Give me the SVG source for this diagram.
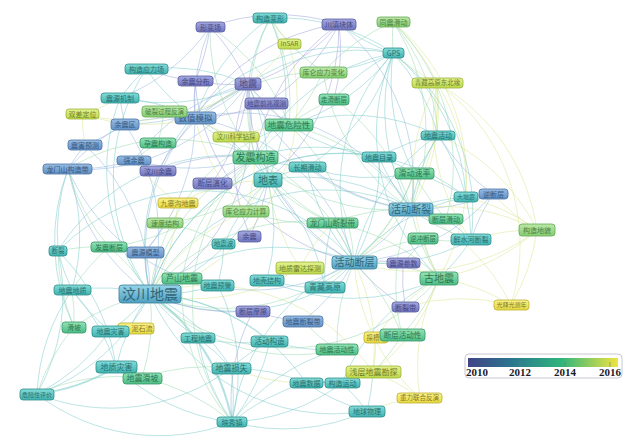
<svg xmlns="http://www.w3.org/2000/svg" width="634" height="445" viewBox="0 0 634 445">
<defs>
<linearGradient id="gP" x1="0" y1="0" x2="0" y2="1"><stop offset="0" stop-color="#a4a8e0"/><stop offset="1" stop-color="#7074bc"/></linearGradient>
<linearGradient id="gB" x1="0" y1="0" x2="0" y2="1"><stop offset="0" stop-color="#98bce4"/><stop offset="1" stop-color="#6290c4"/></linearGradient>
<linearGradient id="gS" x1="0" y1="0" x2="0" y2="1"><stop offset="0" stop-color="#94d4e8"/><stop offset="1" stop-color="#50a0c0"/></linearGradient>
<linearGradient id="gT" x1="0" y1="0" x2="0" y2="1"><stop offset="0" stop-color="#84dcd8"/><stop offset="1" stop-color="#40b2b0"/></linearGradient>
<linearGradient id="gG" x1="0" y1="0" x2="0" y2="1"><stop offset="0" stop-color="#94e4b4"/><stop offset="1" stop-color="#4cbc84"/></linearGradient>
<linearGradient id="gL" x1="0" y1="0" x2="0" y2="1"><stop offset="0" stop-color="#bce8a8"/><stop offset="1" stop-color="#84cc72"/></linearGradient>
<linearGradient id="gY" x1="0" y1="0" x2="0" y2="1"><stop offset="0" stop-color="#e4f290"/><stop offset="1" stop-color="#bcd84a"/></linearGradient>
<linearGradient id="gW" x1="0" y1="0" x2="0" y2="1"><stop offset="0" stop-color="#faf28a"/><stop offset="1" stop-color="#e6d840"/></linearGradient>
<linearGradient id="gLeg" x1="0" y1="0" x2="1" y2="0"><stop offset="0" stop-color="#414487"/><stop offset="0.3" stop-color="#2a788e"/><stop offset="0.62" stop-color="#2fb47c"/><stop offset="1" stop-color="#f0e440"/></linearGradient>
</defs>
<style>
#edges path{fill:none;stroke-width:0.9;opacity:0.55}
.ep{stroke:#9a9ed8}.eb{stroke:#8fb4dc}.et{stroke:#76c8c8}.eg{stroke:#94d8ac}.ey{stroke:#d8e48a}
.nd rect{rx:3px;ry:3px;stroke-width:0.8}
.nd text{font-family:"Noto Sans CJK SC","Noto Sans",sans-serif;font-size:7px;text-anchor:middle;opacity:0.8}
.kP rect{fill:url(#gP);stroke:#5b5f9f}.kP text{fill:#34376e}
.kB rect{fill:url(#gB);stroke:#4d74a4}.kB text{fill:#26466a}
.kS rect{fill:url(#gS);stroke:#3d7f9a}.kS text{fill:#1f4f62}
.kT rect{fill:url(#gT);stroke:#2f8e8c}.kT text{fill:#1c5856}
.kG rect{fill:url(#gG);stroke:#379668}.kG text{fill:#1d5e3e}
.kL rect{fill:url(#gL);stroke:#62a853}.kL text{fill:#3a6a2c}
.kY rect{fill:url(#gY);stroke:#9ab23a}.kY text{fill:#56661a}
.kW rect{fill:url(#gW);stroke:#bcae30}.kW text{fill:#6a6018}
.leg{font-family:"Liberation Serif",serif;font-weight:bold;font-size:11px;fill:#1a1a2a;text-anchor:middle}
</style>
<rect width="634" height="445" fill="#ffffff"/>
<g id="edges">
<path class="et" d="M150 294A200 200 0 0 1 354 262"/>
<path class="et" d="M150 294A200 200 0 0 1 411 209"/>
<path class="eg" d="M150 294A200 200 0 0 0 439 278"/>
<path class="eg" d="M150 294A200 200 0 0 1 255 157"/>
<path class="et" d="M150 294A200 200 0 0 0 268 180"/>
<path class="eb" d="M150 294A200 200 0 0 1 195 118"/>
<path class="ep" d="M150 294A200 200 0 0 0 248 84"/>
<path class="eg" d="M150 294A200 200 0 0 1 289 125"/>
<path class="et" d="M150 294A200 200 0 0 1 120 98"/>
<path class="eb" d="M150 294A200 200 0 0 0 125 124"/>
<path class="eb" d="M150 294A200 200 0 0 1 68 169"/>
<path class="eg" d="M150 294A200 200 0 0 0 109 247"/>
<path class="eb" d="M150 294A200 200 0 0 1 145 252"/>
<path class="et" d="M150 294A200 200 0 0 0 72 290"/>
<path class="eg" d="M150 294A200 200 0 0 1 182 278"/>
<path class="et" d="M150 294A200 200 0 0 0 218 285"/>
<path class="et" d="M150 294A200 200 0 0 1 110 331"/>
<path class="et" d="M150 294A200 200 0 0 0 116 367"/>
<path class="eg" d="M150 294A200 200 0 0 1 142 378"/>
<path class="eg" d="M150 294A200 200 0 0 0 74 327"/>
<path class="et" d="M150 294A200 200 0 0 1 37 394"/>
<path class="et" d="M150 294A200 200 0 0 0 198 338"/>
<path class="et" d="M150 294A200 200 0 0 1 231 368"/>
<path class="et" style="stroke-width:2" d="M150 294A200 200 0 0 1 232 422"/>
<path class="eg" d="M150 294A200 200 0 0 0 337 350"/>
<path class="et" d="M150 294A200 200 0 0 1 306 383"/>
<path class="et" d="M150 294A200 200 0 0 0 367 411"/>
<path class="eg" d="M150 294A200 200 0 0 1 332 223"/>
<path class="et" d="M150 294A200 200 0 0 0 325 288"/>
<path class="et" d="M150 294A200 200 0 0 1 379 157"/>
<path class="ey" d="M150 294A200 200 0 0 0 300 268"/>
<path class="ey" d="M150 294A200 200 0 0 1 246 211"/>
<path class="ey" d="M150 294A200 200 0 0 0 178 203"/>
<path class="ey" d="M150 294A200 200 0 0 1 373 372"/>
<path class="et" d="M150 294A200 200 0 0 1 393 53"/>
<path class="ey" d="M150 294A200 200 0 0 0 289 44"/>
<path class="et" d="M150 294A200 200 0 0 1 146 69"/>
<path class="eb" d="M150 294A200 200 0 0 0 85 145"/>
<path class="et" d="M150 294A200 200 0 0 1 270 341"/>
<path class="ep" d="M150 294A200 200 0 0 0 253 311"/>
<path class="et" d="M150 294A200 200 0 0 1 466 197"/>
<path class="eg" d="M150 294A200 200 0 0 0 414 173"/>
<path class="eb" d="M354 262A200 200 0 0 0 411 209"/>
<path class="eg" d="M354 262A200 200 0 0 1 439 278"/>
<path class="eg" d="M354 262A200 200 0 0 0 255 157"/>
<path class="et" d="M354 262A200 200 0 0 1 268 180"/>
<path class="eg" d="M354 262A200 200 0 0 0 289 125"/>
<path class="et" d="M354 262A200 200 0 0 1 393 53"/>
<path class="ey" d="M354 262A200 200 0 0 0 437 83"/>
<path class="et" d="M354 262A200 200 0 0 1 438 135"/>
<path class="eg" d="M354 262A200 200 0 0 0 414 173"/>
<path class="et" d="M354 262A200 200 0 0 1 466 197"/>
<path class="eb" d="M354 262A200 200 0 0 0 493 194"/>
<path class="eg" d="M354 262A200 200 0 0 1 423 239"/>
<path class="et" d="M354 262A200 200 0 0 0 471 240"/>
<path class="ep" d="M354 262A200 200 0 0 1 403 263"/>
<path class="ep" d="M354 262A200 200 0 0 0 405 307"/>
<path class="eg" d="M354 262A200 200 0 0 1 402 335"/>
<path class="eg" d="M354 262A200 200 0 0 0 337 350"/>
<path class="ey" d="M354 262A200 200 0 0 1 373 372"/>
<path class="ey" d="M354 262A200 200 0 0 0 420 398"/>
<path class="et" d="M354 262A200 200 0 0 1 325 288"/>
<path class="eg" d="M354 262A200 200 0 0 0 332 223"/>
<path class="et" d="M354 262A200 200 0 0 1 307 167"/>
<path class="et" d="M354 262A200 200 0 0 0 379 157"/>
<path class="ep" d="M354 262A200 200 0 0 1 195 81"/>
<path class="eb" d="M354 262A200 200 0 0 0 195 118"/>
<path class="ep" d="M354 262A200 200 0 0 1 248 84"/>
<path class="et" d="M354 262A200 200 0 0 0 58 251"/>
<path class="eb" d="M354 262A200 200 0 0 1 68 169"/>
<path class="et" d="M354 262A200 200 0 0 0 232 422"/>
<path class="eb" d="M354 262A200 200 0 0 1 303 321"/>
<path class="ey" d="M354 262A200 200 0 0 0 537 230"/>
<path class="eg" d="M411 209A200 200 0 0 0 439 278"/>
<path class="et" d="M411 209A200 200 0 0 1 393 53"/>
<path class="ey" d="M411 209A200 200 0 0 0 437 83"/>
<path class="et" d="M411 209A200 200 0 0 1 438 135"/>
<path class="eg" d="M411 209A200 200 0 0 0 414 173"/>
<path class="et" d="M411 209A200 200 0 0 1 466 197"/>
<path class="eb" d="M411 209A200 200 0 0 0 493 194"/>
<path class="eg" d="M411 209A200 200 0 0 1 446 219"/>
<path class="et" d="M411 209A200 200 0 0 0 471 240"/>
<path class="ey" d="M411 209A200 200 0 0 1 537 230"/>
<path class="eg" d="M411 209A200 200 0 0 0 334 99"/>
<path class="eg" d="M411 209A200 200 0 0 1 323 72"/>
<path class="eg" d="M411 209A200 200 0 0 0 393 22"/>
<path class="et" d="M411 209A200 200 0 0 1 379 157"/>
<path class="et" d="M411 209A200 200 0 0 0 268 180"/>
<path class="eg" d="M411 209A200 200 0 0 1 255 157"/>
<path class="eg" d="M411 209A200 200 0 0 0 289 125"/>
<path class="ep" d="M411 209A200 200 0 0 1 248 84"/>
<path class="eb" d="M411 209A200 200 0 0 0 195 118"/>
<path class="et" d="M411 209A200 200 0 0 1 307 167"/>
<path class="eg" d="M411 209A200 200 0 0 0 332 223"/>
<path class="ey" d="M411 209A200 200 0 0 1 511 305"/>
<path class="eg" d="M411 209A200 200 0 0 0 402 335"/>
<path class="ey" d="M439 278A200 200 0 0 0 537 230"/>
<path class="ey" d="M439 278A200 200 0 0 1 511 305"/>
<path class="et" d="M439 278A200 200 0 0 0 471 240"/>
<path class="eg" d="M439 278A200 200 0 0 1 423 239"/>
<path class="ey" d="M439 278A200 200 0 0 1 437 83"/>
<path class="ey" d="M439 278A200 200 0 0 0 393 22"/>
<path class="et" d="M439 278A200 200 0 0 1 393 53"/>
<path class="ey" d="M439 278A200 200 0 0 0 376 337"/>
<path class="eg" d="M439 278A200 200 0 0 1 402 335"/>
<path class="ey" d="M439 278A200 200 0 0 0 420 398"/>
<path class="ey" d="M439 278A200 200 0 0 1 373 372"/>
<path class="et" d="M439 278A200 200 0 0 0 342 383"/>
<path class="et" d="M439 278A200 200 0 0 1 267 280"/>
<path class="eg" d="M439 278A200 200 0 0 0 332 223"/>
<path class="ep" d="M248 84A200 200 0 0 0 210 27"/>
<path class="et" d="M248 84A200 200 0 0 1 270 18"/>
<path class="ep" d="M248 84A200 200 0 0 0 339 24"/>
<path class="ep" d="M248 84A200 200 0 0 1 195 81"/>
<path class="ep" d="M248 84A200 200 0 0 0 266 103"/>
<path class="eb" d="M248 84A200 200 0 0 1 195 118"/>
<path class="et" d="M248 84A200 200 0 0 0 146 69"/>
<path class="et" d="M248 84A200 200 0 0 1 120 98"/>
<path class="ey" d="M248 84A200 200 0 0 0 289 44"/>
<path class="et" d="M248 84A200 200 0 0 1 393 53"/>
<path class="eg" d="M248 84A200 200 0 0 0 255 157"/>
<path class="et" d="M248 84A200 200 0 0 1 268 180"/>
<path class="eg" d="M248 84A200 200 0 0 0 289 125"/>
<path class="eb" d="M248 84A200 200 0 0 1 125 124"/>
<path class="ep" d="M248 84A200 200 0 0 0 158 171"/>
<path class="ep" d="M248 84A200 200 0 0 1 212 183"/>
<path class="ep" d="M248 84A200 200 0 0 0 250 236"/>
<path class="eb" d="M248 84A200 200 0 0 1 68 169"/>
<path class="eb" d="M248 84A200 200 0 0 0 134 160"/>
<path class="ey" d="M248 84A200 200 0 0 1 82 114"/>
<path class="et" d="M195 118A200 200 0 0 0 120 98"/>
<path class="ey" d="M195 118A200 200 0 0 1 82 114"/>
<path class="eb" d="M195 118A200 200 0 0 0 125 124"/>
<path class="et" d="M195 118A200 200 0 0 1 146 69"/>
<path class="eg" d="M195 118A200 200 0 0 0 164 111"/>
<path class="ep" d="M195 118A200 200 0 0 1 195 81"/>
<path class="eg" d="M195 118A200 200 0 0 0 255 157"/>
<path class="et" d="M195 118A200 200 0 0 1 268 180"/>
<path class="ey" d="M195 118A200 200 0 0 0 246 211"/>
<path class="eb" d="M195 118A200 200 0 0 1 145 252"/>
<path class="ey" d="M195 118A200 200 0 0 0 236 137"/>
<path class="eg" d="M195 118A200 200 0 0 1 323 72"/>
<path class="ep" d="M195 118A200 200 0 0 0 266 103"/>
<path class="ep" d="M210 27A200 200 0 0 1 195 81"/>
<path class="eb" d="M210 27A200 200 0 0 0 195 118"/>
<path class="eb" d="M210 27A200 200 0 0 1 120 98"/>
<path class="eg" d="M210 27A200 200 0 0 0 255 157"/>
<path class="eg" d="M210 27A200 200 0 0 1 289 125"/>
<path class="ep" d="M210 27A200 200 0 0 1 339 24"/>
<path class="ey" d="M270 18A200 200 0 0 0 289 44"/>
<path class="et" d="M270 18A200 200 0 0 1 393 53"/>
<path class="eg" d="M270 18A200 200 0 0 0 255 157"/>
<path class="eg" d="M270 18A200 200 0 0 1 289 125"/>
<path class="eg" d="M270 18A200 200 0 0 0 323 72"/>
<path class="et" d="M270 18A200 200 0 0 1 268 180"/>
<path class="et" d="M270 18A200 200 0 0 0 195 118"/>
<path class="et" d="M339 24A200 200 0 0 0 393 53"/>
<path class="ep" d="M339 24A200 200 0 0 1 266 103"/>
<path class="ep" d="M339 24A200 200 0 0 0 255 157"/>
<path class="ep" d="M339 24A200 200 0 0 1 268 180"/>
<path class="ep" d="M339 24A200 200 0 0 0 195 118"/>
<path class="ep" d="M339 24A200 200 0 0 1 334 99"/>
<path class="eb" d="M339 24A200 200 0 0 1 411 209"/>
<path class="eg" d="M393 22A200 200 0 0 0 393 53"/>
<path class="ey" d="M393 22A200 200 0 0 1 437 83"/>
<path class="eg" d="M393 22A200 200 0 0 0 323 72"/>
<path class="eg" d="M393 22A200 200 0 0 1 438 135"/>
<path class="eg" d="M393 22A200 200 0 0 1 446 219"/>
<path class="ey" d="M393 53A200 200 0 0 0 437 83"/>
<path class="et" d="M393 53A200 200 0 0 1 323 72"/>
<path class="et" d="M393 53A200 200 0 0 0 334 99"/>
<path class="et" d="M393 53A200 200 0 0 1 438 135"/>
<path class="et" d="M393 53A200 200 0 0 0 414 173"/>
<path class="et" d="M393 53A200 200 0 0 1 307 167"/>
<path class="et" d="M393 53A200 200 0 0 0 255 157"/>
<path class="et" d="M393 53A200 200 0 0 1 289 125"/>
<path class="et" d="M393 53A200 200 0 0 1 466 197"/>
<path class="et" d="M393 53A200 200 0 0 1 471 240"/>
<path class="ey" d="M437 83A200 200 0 0 1 537 230"/>
<path class="ey" d="M437 83A200 200 0 0 0 438 135"/>
<path class="ey" d="M437 83A200 200 0 0 1 511 305"/>
<path class="ey" d="M437 83A200 200 0 0 0 471 240"/>
<path class="ey" d="M437 83A200 200 0 0 1 466 197"/>
<path class="et" d="M255 157A200 200 0 0 0 268 180"/>
<path class="eg" d="M255 157A200 200 0 0 1 289 125"/>
<path class="et" d="M255 157A200 200 0 0 0 307 167"/>
<path class="ey" d="M255 157A200 200 0 0 1 246 211"/>
<path class="eg" d="M255 157A200 200 0 0 0 332 223"/>
<path class="eg" d="M255 157A200 200 0 0 1 109 247"/>
<path class="eg" d="M255 157A200 200 0 0 0 68 169"/>
<path class="eb" d="M255 157A200 200 0 0 1 134 160"/>
<path class="ep" d="M255 157A200 200 0 0 0 158 171"/>
<path class="ep" d="M255 157A200 200 0 0 1 212 183"/>
<path class="et" d="M255 157A200 200 0 0 0 58 251"/>
<path class="et" d="M255 157A200 200 0 0 1 379 157"/>
<path class="eg" d="M255 157A200 200 0 0 0 182 278"/>
<path class="et" d="M268 180A200 200 0 0 1 307 167"/>
<path class="ey" d="M268 180A200 200 0 0 0 246 211"/>
<path class="ep" d="M268 180A200 200 0 0 1 250 236"/>
<path class="et" d="M268 180A200 200 0 0 0 224 244"/>
<path class="et" d="M268 180A200 200 0 0 1 267 280"/>
<path class="ey" d="M268 180A200 200 0 0 0 300 268"/>
<path class="et" d="M268 180A200 200 0 0 1 325 288"/>
<path class="eg" d="M268 180A200 200 0 0 0 332 223"/>
<path class="eg" d="M268 180A200 200 0 0 1 165 223"/>
<path class="ey" d="M268 180A200 200 0 0 0 178 203"/>
<path class="eg" d="M289 125A200 200 0 0 0 323 72"/>
<path class="eg" d="M289 125A200 200 0 0 1 334 99"/>
<path class="ey" d="M289 125A200 200 0 0 0 236 137"/>
<path class="ep" d="M289 125A200 200 0 0 1 266 103"/>
<path class="et" d="M289 125A200 200 0 0 0 379 157"/>
<path class="et" d="M289 125A200 200 0 0 1 438 135"/>
<path class="et" d="M68 169A200 200 0 0 0 58 251"/>
<path class="et" d="M68 169A200 200 0 0 1 72 290"/>
<path class="eg" d="M68 169A200 200 0 0 0 109 247"/>
<path class="eb" d="M68 169A200 200 0 0 1 85 145"/>
<path class="eb" d="M68 169A200 200 0 0 0 134 160"/>
<path class="eb" d="M68 169A200 200 0 0 1 125 124"/>
<path class="et" d="M68 169A200 200 0 0 0 74 327"/>
<path class="eg" d="M58 251A200 200 0 0 1 109 247"/>
<path class="et" d="M58 251A200 200 0 0 0 72 290"/>
<path class="et" d="M58 251A200 200 0 0 1 37 394"/>
<path class="eg" d="M58 251A200 200 0 0 0 74 327"/>
<path class="et" d="M58 251A200 200 0 0 1 116 367"/>
<path class="eg" d="M72 290A200 200 0 0 1 74 327"/>
<path class="et" d="M72 290A200 200 0 0 0 110 331"/>
<path class="et" d="M72 290A200 200 0 0 1 116 367"/>
<path class="et" d="M72 290A200 200 0 0 0 37 394"/>
<path class="eg" d="M72 290A200 200 0 0 1 109 247"/>
<path class="et" style="stroke-width:2" d="M37 394A200 200 0 0 0 116 367"/>
<path class="eg" d="M37 394A200 200 0 0 1 142 378"/>
<path class="et" d="M37 394A200 200 0 0 0 110 331"/>
<path class="eg" d="M37 394A200 200 0 0 1 74 327"/>
<path class="et" d="M37 394A200 200 0 0 0 231 368"/>
<path class="et" d="M37 394A200 200 0 0 0 232 422"/>
<path class="et" d="M232 422A200 200 0 0 0 231 368"/>
<path class="et" d="M232 422A200 200 0 0 1 198 338"/>
<path class="et" d="M232 422A200 200 0 0 0 270 341"/>
<path class="et" d="M232 422A200 200 0 0 1 306 383"/>
<path class="et" d="M232 422A200 200 0 0 0 342 383"/>
<path class="et" d="M232 422A200 200 0 0 1 116 367"/>
<path class="eg" d="M232 422A200 200 0 0 0 142 378"/>
<path class="eg" d="M232 422A200 200 0 0 1 182 278"/>
<path class="et" d="M232 422A200 200 0 0 0 218 285"/>
<path class="ep" d="M232 422A200 200 0 0 1 253 311"/>
<path class="et" d="M232 422A200 200 0 0 0 367 411"/>
<path class="et" d="M232 422A200 200 0 0 1 337 350"/>
<path class="eg" d="M232 422A200 200 0 0 1 255 157"/>
<path class="et" d="M231 368A200 200 0 0 0 198 338"/>
<path class="et" d="M231 368A200 200 0 0 1 270 341"/>
<path class="eg" d="M231 368A200 200 0 0 0 142 378"/>
<path class="et" d="M231 368A200 200 0 0 1 306 383"/>
<path class="ey" d="M231 368A200 200 0 0 0 373 372"/>
<path class="ey" d="M373 372A200 200 0 0 1 420 398"/>
<path class="ey" d="M373 372A200 200 0 0 0 376 337"/>
<path class="et" d="M373 372A200 200 0 0 1 367 411"/>
<path class="eg" d="M373 372A200 200 0 0 0 402 335"/>
<path class="et" d="M373 372A200 200 0 0 1 306 383"/>
<path class="ey" d="M537 230A200 200 0 0 0 471 240"/>
<path class="ey" d="M537 230A200 200 0 0 1 493 194"/>
<path class="ey" d="M537 230A200 200 0 0 0 466 197"/>
<path class="ey" d="M537 230A200 200 0 0 1 511 305"/>
<path class="ey" d="M537 230A200 200 0 0 0 438 135"/>
<path class="et" d="M438 135A200 200 0 0 1 466 197"/>
<path class="eb" d="M438 135A200 200 0 0 0 493 194"/>
<path class="et" d="M438 135A200 200 0 0 1 414 173"/>
<path class="et" d="M438 135A200 200 0 0 0 379 157"/>
<path class="et" d="M471 240A200 200 0 0 0 466 197"/>
<path class="eb" d="M471 240A200 200 0 0 1 493 194"/>
<path class="et" d="M471 240A200 200 0 0 0 446 219"/>
<path class="eg" d="M471 240A200 200 0 0 1 423 239"/>
<path class="et" d="M414 173A200 200 0 0 0 379 157"/>
<path class="et" d="M414 173A200 200 0 0 1 307 167"/>
<path class="eg" d="M414 173A200 200 0 0 0 446 219"/>
<path class="et" d="M414 173A200 200 0 0 1 466 197"/>
<path class="et" d="M332 223A200 200 0 0 0 325 288"/>
<path class="eg" d="M332 223A200 200 0 0 1 246 211"/>
<path class="ey" d="M332 223A200 200 0 0 0 300 268"/>
<path class="ey" d="M300 268A200 200 0 0 1 267 280"/>
<path class="et" d="M267 280A200 200 0 0 0 325 288"/>
<path class="eg" d="M218 285A200 200 0 0 1 182 278"/>
<path class="et" d="M218 285A200 200 0 0 0 224 244"/>
<path class="ep" d="M224 244A200 200 0 0 1 250 236"/>
<path class="eg" d="M224 244A200 200 0 0 0 165 223"/>
<path class="eb" d="M165 223A200 200 0 0 1 145 252"/>
<path class="ey" d="M165 223A200 200 0 0 0 178 203"/>
<path class="ey" d="M178 203A200 200 0 0 1 134 160"/>
<path class="eg" d="M145 252A200 200 0 0 0 109 247"/>
<path class="ey" d="M120 98A200 200 0 0 1 82 114"/>
<path class="eb" d="M120 98A200 200 0 0 0 125 124"/>
<path class="et" d="M120 98A200 200 0 0 1 146 69"/>
<path class="ep" d="M146 69A200 200 0 0 0 195 81"/>
<path class="eg" d="M164 111A200 200 0 0 1 158 143"/>
<path class="eg" d="M158 143A200 200 0 0 0 134 160"/>
<path class="ey" d="M85 145A200 200 0 0 1 82 114"/>
<path class="eb" d="M85 145A200 200 0 0 0 125 124"/>
<path class="ep" d="M405 307A200 200 0 0 1 403 263"/>
<path class="eg" d="M403 263A200 200 0 0 0 423 239"/>
<path class="ep" d="M303 321A200 200 0 0 1 253 311"/>
<path class="eg" d="M303 321A200 200 0 0 0 337 350"/>
<path class="et" d="M270 341A200 200 0 0 1 198 338"/>
<path class="et" d="M270 341A200 200 0 0 0 337 350"/>
<path class="ey" d="M376 337A200 200 0 0 1 402 335"/>
<path class="et" d="M342 383A200 200 0 0 0 306 383"/>
<path class="et" d="M342 383A200 200 0 0 1 367 411"/>
<path class="ey" d="M420 398A200 200 0 0 0 367 411"/>
<path class="et" d="M367 411A200 200 0 0 1 306 383"/>
<path class="ey" d="M511 305A200 200 0 0 0 405 307"/>
</g>
<g id="n_A" class="nd kS"><rect x="119" y="285" width="62" height="18"/><text x="150" y="299" style="font-size:14px">汶川地震</text></g>
<g id="n_B" class="nd kS"><rect x="332" y="256" width="45" height="13"/><text x="354.5" y="266" style="font-size:10px">活动断层</text></g>
<g id="n_C" class="nd kS"><rect x="389" y="203" width="44" height="13"/><text x="411" y="213" style="font-size:10px">活动断裂</text></g>
<g id="n_D" class="nd kG"><rect x="420" y="272" width="38" height="13"/><text x="439" y="282" style="font-size:10px">古地震</text></g>
<g id="n_E" class="nd kG"><rect x="233" y="151" width="45" height="13"/><text x="255.5" y="161" style="font-size:10px">发震构造</text></g>
<g id="n_F" class="nd kT"><rect x="254" y="173" width="28" height="14"/><text x="268" y="183.6" style="font-size:10px">地表</text></g>
<g id="n_G" class="nd kB"><rect x="175" y="112" width="41" height="12"/><text x="195.5" y="121" style="font-size:8.5px">数值模拟</text></g>
<g id="n_H" class="nd kP"><rect x="235" y="78" width="26" height="12"/><text x="248" y="87.2" style="font-size:9px">地震</text></g>
<g id="n_I" class="nd kG"><rect x="265" y="119" width="48" height="12"/><text x="289" y="128" style="font-size:8.5px">地震危险性</text></g>
<g id="n_J" class="nd kT"><rect x="125" y="64" width="43" height="10"/><text x="146.5" y="71.5">构造应力场</text></g>
<g id="n_K" class="nd kT"><rect x="101" y="93" width="38" height="10"/><text x="120" y="100.5">震源机制</text></g>
<g id="n_L" class="nd kY"><rect x="66" y="109" width="33" height="10"/><text x="82.5" y="116.5">双差定位</text></g>
<g id="n_M" class="nd kB"><rect x="111" y="119" width="28" height="11"/><text x="125" y="127">余震区</text></g>
<g id="n_N" class="nd kB"><rect x="68" y="140" width="34" height="10"/><text x="85" y="147.5">震害预测</text></g>
<g id="n_O" class="nd kL"><rect x="142" y="106" width="45" height="11"/><text x="164.5" y="113.8" style="font-size:6.5px">破裂过程反演</text></g>
<g id="n_P" class="nd kG"><rect x="140" y="138" width="36" height="10"/><text x="158" y="145.5">孕震构造</text></g>
<g id="n_Q" class="nd kP"><rect x="196" y="22" width="29" height="10"/><text x="210.5" y="29.5">形变场</text></g>
<g id="n_R" class="nd kT"><rect x="253" y="13" width="34" height="10"/><text x="270" y="20.5">构造变形</text></g>
<g id="n_S" class="nd kY"><rect x="278" y="39" width="23" height="10"/><text x="289.5" y="46.3" style="font-size:6.5px">InSAR</text></g>
<g id="n_T" class="nd kP"><rect x="178" y="76" width="35" height="10"/><text x="195.5" y="83.5">余震分布</text></g>
<g id="n_U" class="nd kP"><rect x="245" y="98" width="43" height="11"/><text x="266.5" y="105.8" style="font-size:6.5px">地震前兆观测</text></g>
<g id="n_V" class="nd kY"><rect x="213" y="132" width="46" height="10"/><text x="236" y="139.3" style="font-size:6.5px">汶川科学钻探</text></g>
<g id="n_W" class="nd kL"><rect x="300" y="67" width="47" height="11"/><text x="323.5" y="75">库仑应力变化</text></g>
<g id="n_X" class="nd kG"><rect x="319" y="94" width="30" height="11"/><text x="334" y="101.8" style="font-size:6.5px">走滑断层</text></g>
<g id="n_Y" class="nd kP"><rect x="322" y="19" width="34" height="11"/><text x="339" y="27">川滇块体</text></g>
<g id="n_Z" class="nd kL"><rect x="377" y="17" width="33" height="10"/><text x="393.5" y="24.5">同震滑动</text></g>
<g id="n_a" class="nd kT"><rect x="383" y="48" width="21" height="10"/><text x="393.5" y="55.5">GPS</text></g>
<g id="n_b" class="nd kY"><rect x="412" y="78" width="51" height="10"/><text x="437.5" y="85.3" style="font-size:6.5px">青藏高原东北缘</text></g>
<g id="n_c" class="nd kT"><rect x="421" y="131" width="34" height="9"/><text x="438" y="138">地震活动</text></g>
<g id="n_d" class="nd kB"><rect x="43" y="164" width="49" height="10"/><text x="67.5" y="171.5">龙门山构造带</text></g>
<g id="n_e" class="nd kB"><rect x="117" y="156" width="34" height="9"/><text x="134" y="163">强余震</text></g>
<g id="n_f" class="nd kP"><rect x="140" y="166" width="36" height="10"/><text x="158" y="173.5">汶川余震</text></g>
<g id="n_g" class="nd kW"><rect x="158" y="198" width="40" height="10"/><text x="178" y="205.5">九寨沟地震</text></g>
<g id="n_h" class="nd kL"><rect x="147" y="218" width="36" height="10"/><text x="165" y="225.5">速度结构</text></g>
<g id="n_i" class="nd kT"><rect x="49" y="246" width="18" height="10"/><text x="58" y="253.3" style="font-size:6.5px">断裂</text></g>
<g id="n_j" class="nd kG"><rect x="91" y="242" width="36" height="10"/><text x="109" y="249.5">发震断层</text></g>
<g id="n_k" class="nd kB"><rect x="127" y="247" width="37" height="11"/><text x="145.5" y="255">震源模型</text></g>
<g id="n_l" class="nd kT"><rect x="54" y="285" width="37" height="10"/><text x="72.5" y="292.5">地震地质</text></g>
<g id="n_m" class="nd kT"><rect x="289" y="162" width="37" height="10"/><text x="307.5" y="169.5">长期滑动</text></g>
<g id="n_n" class="nd kP"><rect x="193" y="178" width="39" height="11"/><text x="212.5" y="186.2" style="font-size:7.5px">断层演化</text></g>
<g id="n_o" class="nd kL"><rect x="223" y="206" width="46" height="11"/><text x="246" y="214" style="font-size:6.8px">库仑应力计算</text></g>
<g id="n_p" class="nd kG"><rect x="307" y="218" width="51" height="10"/><text x="332.5" y="225.7" style="font-size:7.5px">龙门山断裂带</text></g>
<g id="n_q" class="nd kP"><rect x="238" y="231" width="23" height="11"/><text x="249.5" y="239">余震</text></g>
<g id="n_r" class="nd kT"><rect x="212" y="239" width="23" height="10"/><text x="223.5" y="246.3" style="font-size:6.5px">地震波</text></g>
<g id="n_s" class="nd kY"><rect x="276" y="262" width="48" height="12"/><text x="300" y="270.5">地质雷达探测</text></g>
<g id="n_t" class="nd kG"><rect x="162" y="273" width="40" height="11"/><text x="182" y="281.4" style="font-size:8px">芦山地震</text></g>
<g id="n_u" class="nd kT"><rect x="201" y="280" width="33" height="11"/><text x="217.5" y="288">地震预警</text></g>
<g id="n_v" class="nd kT"><rect x="250" y="275" width="34" height="11"/><text x="267" y="283">地壳结构</text></g>
<g id="n_w" class="nd kT"><rect x="305" y="282" width="40" height="11"/><text x="325" y="290.4" style="font-size:8px">青藏高原</text></g>
<g id="n_x" class="nd kT"><rect x="362" y="152" width="34" height="10"/><text x="379" y="159.5">地震目录</text></g>
<g id="n_y" class="nd kG"><rect x="395" y="168" width="39" height="11"/><text x="414.5" y="176.4" style="font-size:8px">滑动速率</text></g>
<g id="n_z" class="nd kT"><rect x="454" y="192" width="24" height="10"/><text x="466" y="199.2" style="font-size:6px">大地震</text></g>
<g id="n_A2" class="nd kB"><rect x="479" y="189" width="29" height="10"/><text x="493.5" y="196.5">逆断层</text></g>
<g id="n_B2" class="nd kG"><rect x="429" y="214" width="34" height="10"/><text x="446" y="221.5">断层滑动</text></g>
<g id="n_C2" class="nd kG"><rect x="408" y="233" width="30" height="11"/><text x="423" y="240.8" style="font-size:6.5px">逆冲断层</text></g>
<g id="n_D2" class="nd kT"><rect x="451" y="234" width="40" height="11"/><text x="471" y="242">鲜水河断裂</text></g>
<g id="n_E2" class="nd kL"><rect x="519" y="224" width="36" height="12"/><text x="537" y="232.5">构造地貌</text></g>
<g id="n_F2" class="nd kP"><rect x="387" y="258" width="33" height="10"/><text x="403.5" y="265.5">震源参数</text></g>
<g id="n_G2" class="nd kW"><rect x="494" y="300" width="35" height="10"/><text x="511.5" y="307.2" style="font-size:6px">光释光测年</text></g>
<g id="n_H2" class="nd kG"><rect x="62" y="322" width="24" height="11"/><text x="74" y="330">滑坡</text></g>
<g id="n_J2" class="nd kW"><rect x="118" y="323" width="36" height="11"/><text x="142" y="330.5">泥石流</text></g>
<g id="n_I2" class="nd kT"><rect x="92" y="326" width="37" height="11"/><text x="110.5" y="334">地震灾害</text></g>
<g id="n_K2" class="nd kT"><rect x="96" y="361" width="41" height="12"/><text x="116.5" y="369.9" style="font-size:8px">地质灾害</text></g>
<g id="n_L2" class="nd kG"><rect x="123" y="373" width="39" height="11"/><text x="142.5" y="381.4" style="font-size:8px">地震滑坡</text></g>
<g id="n_M2" class="nd kT"><rect x="20" y="389" width="34" height="11"/><text x="37" y="396.7" style="font-size:6px">危险性评价</text></g>
<g id="n_N2" class="nd kP"><rect x="236" y="306" width="34" height="11"/><text x="253" y="314">断层摩擦</text></g>
<g id="n_O2" class="nd kB"><rect x="283" y="316" width="40" height="11"/><text x="303" y="324">地震断裂带</text></g>
<g id="n_P2" class="nd kT"><rect x="181" y="333" width="34" height="10"/><text x="198" y="340.5">工程地震</text></g>
<g id="n_Q2" class="nd kT"><rect x="251" y="336" width="37" height="11"/><text x="269.5" y="344.2" style="font-size:7.5px">活动构造</text></g>
<g id="n_R2" class="nd kT"><rect x="212" y="363" width="39" height="11"/><text x="231.5" y="371.4" style="font-size:8px">地震损失</text></g>
<g id="n_S2" class="nd kT"><rect x="217" y="417" width="30" height="10"/><text x="232" y="424.5">映秀镇</text></g>
<g id="n_T2" class="nd kT"><rect x="290" y="378" width="33" height="10"/><text x="306.5" y="385.5">地震数据</text></g>
<g id="n_U2" class="nd kT"><rect x="325" y="378" width="35" height="10"/><text x="342.5" y="385.5">构造运动</text></g>
<g id="n_V2" class="nd kG"><rect x="316" y="344" width="42" height="11"/><text x="337" y="352">地震活动性</text></g>
<g id="n_W2" class="nd kP"><rect x="392" y="302" width="27" height="10"/><text x="405.5" y="309.5">断裂带</text></g>
<g id="n_X2" class="nd kW"><rect x="364" y="332" width="24" height="11"/><text x="373" y="339.8" style="font-size:6.5px">探槽</text></g>
<g id="n_Y2" class="nd kG"><rect x="380" y="329" width="45" height="12"/><text x="402.5" y="337.7" style="font-size:7.5px">断层活动性</text></g>
<g id="n_Z2" class="nd kY"><rect x="346" y="366" width="55" height="12"/><text x="373.5" y="374.9" style="font-size:8px">浅层地震勘探</text></g>
<g id="n_a3" class="nd kW"><rect x="397" y="393" width="45" height="10"/><text x="419.5" y="400.3" style="font-size:6.5px">重力联合反演</text></g>
<g id="n_b3" class="nd kT"><rect x="349" y="406" width="36" height="11"/><text x="367" y="414">地球物理</text></g>
<g id="legend">
<rect x="465" y="354" width="157" height="24" rx="4" fill="#ffffff" stroke="#c8c8d0" stroke-width="1"/>
<rect x="468" y="358" width="150" height="9" fill="url(#gLeg)"/>
<path d="M520 362V367M565 362V367M610 362V367" stroke="#777" stroke-width="0.6"/>
<text class="leg" x="477" y="376">2010</text>
<text class="leg" x="520" y="376">2012</text>
<text class="leg" x="565" y="376">2014</text>
<text class="leg" x="610" y="376">2016</text>
</g>
</svg>
